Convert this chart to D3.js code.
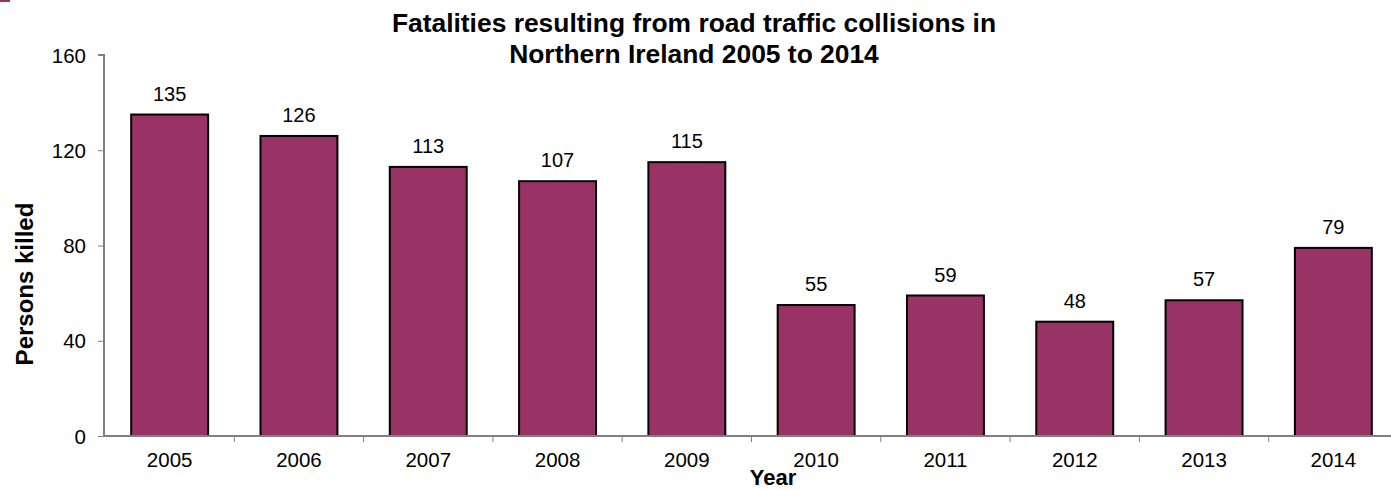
<!DOCTYPE html>
<html>
  <head>
    <meta charset="utf-8">
    <title>Road traffic fatalities</title>
    <style>
      body { margin: 0; background: #fff; }
      svg text { font-family: Arial, "Liberation Sans", sans-serif; fill: #000; }
    </style>
  </head>
  <body>
    <div id="chart"></div>
    <script src="https://cdn.jsdelivr.net/npm/d3@7"></script>
    <script>
    var years = ["2005", "2006", "2007", "2008", "2009", "2010", "2011", "2012", "2013", "2014"];
    var killed = [135, 126, 113, 107, 115, 55, 59, 48, 57, 79];
    var yTicks = [0, 40, 80, 120, 160];

    var width = 1391, height = 490;
    var svg = d3.select("#chart").append("svg")
        .attr("width", width)
        .attr("height", height);

    // little corner mark seen in the original
    svg.append("rect")
        .attr("x", 0).attr("y", 0)
        .attr("width", 10).attr("height", 2)
        .style("fill", "#993366");

    var x = d3.scaleBand()
        .domain(years)
        .range([105, 1398])
        .paddingInner(0.405)
        .paddingOuter(0.2025);

    var y = d3.scaleLinear()
        .domain([0, 160])
        .range([436, 55]);

    // bars
    svg.selectAll(".bar")
        .data(killed)
        .enter().append("rect")
        .attr("class", "bar")
        .attr("x", function(d, i) { return x(years[i]); })
        .attr("y", function(d) { return y(d); })
        .attr("width", x.bandwidth())
        .attr("height", function(d) { return y(0) - y(d); })
        .style("fill", "#993366")
        .style("stroke", "#000")
        .style("stroke-width", 2);

    // value labels
    svg.selectAll(".val")
        .data(killed)
        .enter().append("text")
        .attr("class", "val")
        .attr("x", function(d, i) { return x(years[i]) + x.bandwidth() / 2; })
        .attr("y", function(d) { return y(d) - 14; })
        .attr("text-anchor", "middle")
        .style("font-size", "20px")
        .text(function(d) { return d; });

    // y axis
    var yAxis = d3.axisLeft(y).tickValues(yTicks).tickSize(6).tickPadding(12);
    var gy = svg.append("g").attr("transform", "translate(104,0)").call(yAxis);
    gy.select(".domain").attr("stroke", "#808080").attr("stroke-width", 2)
        .attr("d", "M-6," + y(160) + "H0V" + y(0));
    gy.selectAll(".tick line").attr("stroke", "#808080");
    gy.selectAll(".tick text").style("font-size", "20.5px").attr("dy", "0.35em");

    // x axis line and ticks at the category boundaries
    svg.append("line")
        .attr("x1", 104).attr("x2", width)
        .attr("y1", y(0)).attr("y2", y(0))
        .attr("stroke", "#808080").attr("stroke-width", 2);
    var step = x.step();
    var edge = function(d) { return x(d) - x.paddingOuter() * step; };
    svg.selectAll(".xtick")
        .data(years.slice(1))
        .enter().append("line")
        .attr("class", "xtick")
        .attr("x1", edge).attr("x2", edge)
        .attr("y1", y(0)).attr("y2", y(0) + 6)
        .attr("stroke", "#808080");

    svg.selectAll(".xlab")
        .data(years)
        .enter().append("text")
        .attr("class", "xlab")
        .attr("x", function(d) { return x(d) + x.bandwidth() / 2; })
        .attr("y", 467)
        .attr("text-anchor", "middle")
        .style("font-size", "20.5px")
        .text(function(d) { return d; });

    // titles
    var title = svg.append("text")
        .attr("text-anchor", "middle")
        .style("font-size", "26.4px")
        .style("font-weight", "bold");
    title.append("tspan").attr("x", 694).attr("y", 32)
        .text("Fatalities resulting from road traffic collisions in");
    title.append("tspan").attr("x", 694).attr("y", 63)
        .text("Northern Ireland 2005 to 2014");

    svg.append("text")
        .attr("text-anchor", "middle")
        .attr("transform", "translate(33,284) rotate(-90)")
        .style("font-size", "24px")
        .style("font-weight", "bold")
        .text("Persons killed");

    svg.append("text")
        .attr("x", 773).attr("y", 485)
        .attr("text-anchor", "middle")
        .style("font-size", "22px")
        .style("font-weight", "bold")
        .text("Year");
    </script>
  </body>
</html>
